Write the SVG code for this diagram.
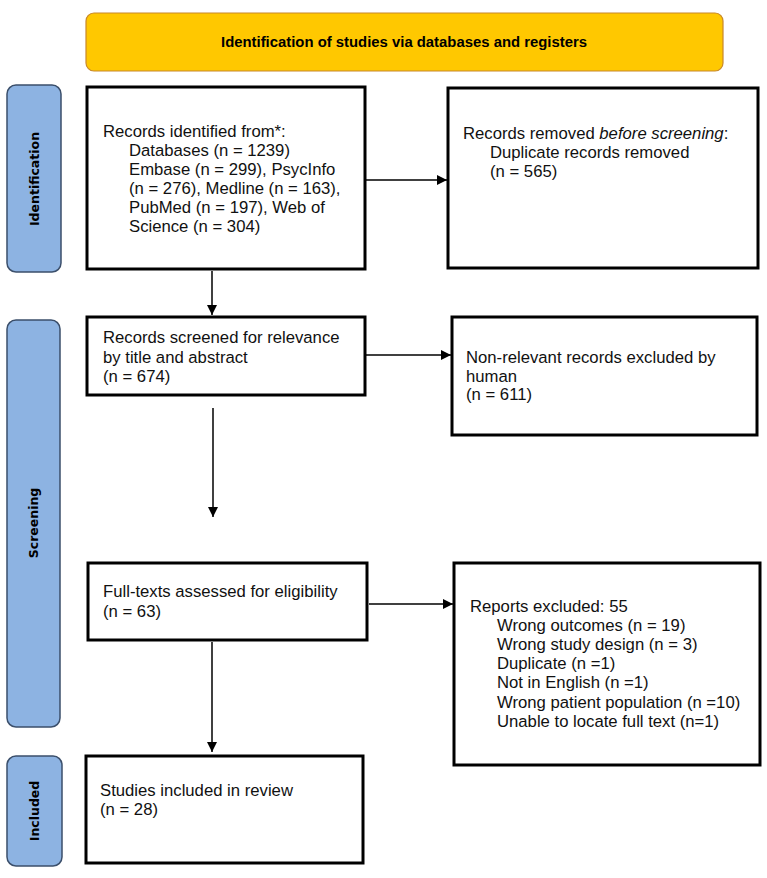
<svg xmlns="http://www.w3.org/2000/svg" width="767" height="878" viewBox="0 0 767 878">
<style>
.box{fill:#fff;stroke:#000;stroke-width:3}
.lane{fill:#8DB3E2;stroke:#3B4F6B;stroke-width:1.5}
.lanet{font-family:"DejaVu Sans",Verdana,sans-serif;font-weight:bold;font-size:12.5px;fill:#000;text-anchor:middle;dominant-baseline:central}
.t{font-family:"Liberation Sans",Arial,sans-serif;font-size:16.7px;fill:#111}
.con{stroke:#000;stroke-width:1.5;fill:none;marker-end:url(#ah)}
</style>
<defs>
<marker id="ah" viewBox="0 0 10 10" refX="10" refY="5" markerWidth="10" markerHeight="10" markerUnits="userSpaceOnUse" orient="auto">
<path d="M0,0 L10,5 L0,10 z" fill="#000"/>
</marker>
</defs>
<rect width="767" height="878" fill="#fff"/>

<g id="banner">
<rect x="86" y="13" width="637" height="58" rx="8" fill="#FFC800" stroke="#C8882A" stroke-width="1.2"/>
<text x="404" y="47" font-family="'Liberation Sans',Arial,sans-serif" font-weight="bold" font-size="14px" text-anchor="middle" textLength="366" lengthAdjust="spacingAndGlyphs" fill="#000">Identification of studies via databases and registers</text>
</g>

<g id="lane-identification">
<rect class="lane" x="7" y="85" width="54" height="187" rx="9"/>
<text class="lanet" transform="translate(34,179) rotate(-90)">Identification</text>
</g>
<g id="lane-screening">
<rect class="lane" x="7" y="320" width="53" height="407" rx="9"/>
<text class="lanet" transform="translate(33,523) rotate(-90)">Screening</text>
</g>
<g id="lane-included">
<rect class="lane" x="7" y="756" width="55" height="110" rx="9"/>
<text class="lanet" transform="translate(34,811) rotate(-90)">Included</text>
</g>

<g id="records-identified">
<rect class="box" x="87" y="87" width="278" height="182"/>
<text class="t" x="103" y="137">Records identified from*:</text>
<text class="t" x="129" y="156">Databases (n = 1239)</text>
<text class="t" x="129" y="175">Embase (n = 299), PsycInfo</text>
<text class="t" x="129" y="194">(n = 276), Medline (n = 163),</text>
<text class="t" x="129" y="213">PubMed (n = 197), Web of</text>
<text class="t" x="129" y="232">Science (n = 304)</text>
</g>

<g id="records-removed">
<rect class="box" x="448" y="88" width="310" height="180"/>
<text class="t" x="463" y="139">Records removed <tspan font-style="italic">before screening</tspan>:</text>
<text class="t" x="490" y="158">Duplicate records removed</text>
<text class="t" x="490" y="177">(n = 565)</text>
</g>

<g id="records-screened">
<rect class="box" x="87" y="317" width="278" height="78"/>
<text class="t" x="103" y="343">Records screened for relevance</text>
<text class="t" x="103" y="363">by title and abstract</text>
<text class="t" x="103" y="382">(n = 674)</text>
</g>

<g id="non-relevant">
<rect class="box" x="452" y="317" width="305" height="118"/>
<text class="t" x="466" y="363">Non-relevant records excluded by</text>
<text class="t" x="466" y="382">human</text>
<text class="t" x="466" y="400">(n = 611)</text>
</g>

<g id="full-texts">
<rect class="box" x="88" y="563" width="279" height="77"/>
<text class="t" x="103" y="597">Full-texts assessed for eligibility</text>
<text class="t" x="103" y="617">(n = 63)</text>
</g>

<g id="reports-excluded">
<rect class="box" x="454" y="563" width="306" height="202"/>
<text class="t" x="470" y="612">Reports excluded: 55</text>
<text class="t" x="497" y="631">Wrong outcomes (n = 19)</text>
<text class="t" x="497" y="650">Wrong study design (n = 3)</text>
<text class="t" x="497" y="669">Duplicate (n =1)</text>
<text class="t" x="497" y="688">Not in English (n =1)</text>
<text class="t" x="497" y="708">Wrong patient population (n =10)</text>
<text class="t" x="497" y="727">Unable to locate full text (n=1)</text>
</g>

<g id="studies-included">
<rect class="box" x="86" y="756" width="277" height="107"/>
<text class="t" x="100" y="796">Studies included in review</text>
<text class="t" x="100" y="815">(n = 28)</text>
</g>

<g id="connectors">
<line class="con" x1="366" y1="180" x2="447" y2="180"/>
<line class="con" x1="212" y1="271" x2="212" y2="315"/>
<line class="con" x1="366" y1="355" x2="451" y2="355"/>
<line class="con" x1="213" y1="408" x2="213" y2="517"/>
<line class="con" x1="369" y1="604" x2="453" y2="604"/>
<line class="con" x1="212" y1="642" x2="212" y2="752"/>
</g>
</svg>
